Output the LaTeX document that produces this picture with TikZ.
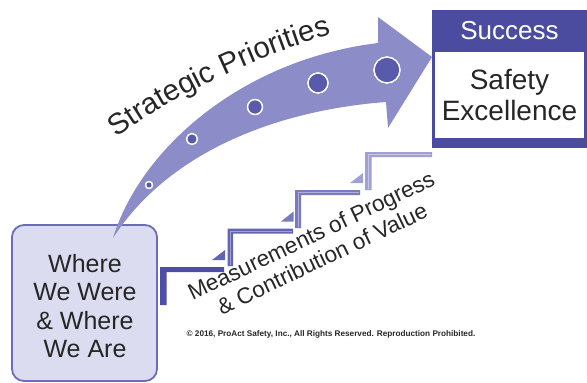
\documentclass[tikz,border=0pt]{standalone}
\usepackage{fontspec}
\setmainfont{Liberation Sans}
\usetikzlibrary{decorations.text}

\definecolor{navy}{HTML}{4B4B9F}
\definecolor{arrowfill}{HTML}{8C8CC8}
\definecolor{dotfill}{HTML}{5A5AAC}
\definecolor{startfill}{HTML}{DCDCF0}
\definecolor{startline}{HTML}{6C6CB8}
\definecolor{stepA}{HTML}{4E4EA6}
\definecolor{stepB}{HTML}{6464B4}
\definecolor{stepC}{HTML}{7A7AC2}
\definecolor{stepD}{HTML}{A0A0D4}
\definecolor{txt}{HTML}{262626}

\begin{document}
\begin{tikzpicture}[x=1pt,y=-1pt,
  dot/.style={fill=dotfill,draw=white,line width=1.2pt},
  bigtext/.style={text=txt,align=center,inner sep=0pt},
  shine/.style={draw=white,draw opacity=0.4,line width=1pt}]
\useasboundingbox (0,0) rectangle (587,383);
% Starting point box
\node[draw=startline,line width=1.8pt,fill=startfill,rounded corners=12pt,minimum width=145pt,minimum height=156pt,inner sep=0pt] (start) at (84.5,303) {};
\node[bigtext,font=\fontsize{25}{28.5}\selectfont] (startlbl) at (85,306) {Where\\We Were\\\& Where\\We Are};
% Goal box
\fill[navy] (432,10) rectangle (587,148);
\fill[white] (435,52) rectangle (584,138);
\node[text=white,font=\fontsize{26}{26}\selectfont,inner sep=0pt] (success) at (509.5,31) {Success};
\node[bigtext,font=\fontsize{28}{31}\selectfont] (goal) at (509.5,95) {Safety\\Excellence};
% Curved arrow
\fill[arrowfill] (113,238) .. controls (140,150) and (240,60) .. (378,43)
  -- (378,17) -- (432,57) -- (388,128) -- (386,102)
  .. controls (280,110) and (170,150) .. (113,238) -- cycle;
% Dots on the arrow
\fill[dot] (149,185) circle[radius=3.5pt];
\fill[dot] (192,139) circle[radius=5.5pt];
\fill[dot] (255,107) circle[radius=7.5pt];
\fill[dot] (318,83) circle[radius=10pt];
\fill[dot] (387,70) circle[radius=13pt];
\draw[dot,fill=none] (149,185) circle[radius=3.5pt] (192,139) circle[radius=5.5pt] (255,107) circle[radius=7.5pt] (318,83) circle[radius=10pt] (387,70) circle[radius=13pt];
\path[decorate,decoration={text along path,text align=center,
  text={|\fontsize{29.5}{29.5}\selectfont\color{txt}|Strategic Priorities}}]
  (112,141) .. controls (150,111) and (240,60) .. (337,33);
% Stairs
\fill[stepA] (160,267) rectangle (166.5,305) (160,267) rectangle (224,272);
\fill[stepB] (227.5,228.5) rectangle (233,266) (227.5,228.5) rectangle (293,233.5);
\fill[stepC] (295,190) rectangle (301,228) (295,190) rectangle (360,195);
\fill[stepD] (365,152) rectangle (371.5,190) (365,152) rectangle (432,157);
\draw[shine] (230.25,265) -- (230.25,231) -- (291.5,231);
\draw[shine] (298,227) -- (298,192.5) -- (358.5,192.5);
\draw[shine] (368.25,189) -- (368.25,154.5) -- (430.5,154.5);
\fill[stepB] (212,260) -- (225,260) -- (225,250) -- cycle;
\fill[stepC] (281,221.5) -- (293.5,221.5) -- (293.5,211.5) -- cycle;
\fill[stepD] (350,183) -- (363,183) -- (363,173) -- cycle;
% Stair labels
\node[bigtext,rotate=25.5,font=\fontsize{22.5}{25.5}\selectfont] (measure) at (316.5,247) {Measurements of Progress\\\& Contribution of Value};
\node[text=txt,font=\fontsize{8.2}{9}\selectfont\bfseries,inner sep=0pt] (copy) at (331,334) {\textcopyright{} 2016, ProAct Safety, Inc., All Rights Reserved. Reproduction Prohibited.};
\end{tikzpicture}
\end{document}
